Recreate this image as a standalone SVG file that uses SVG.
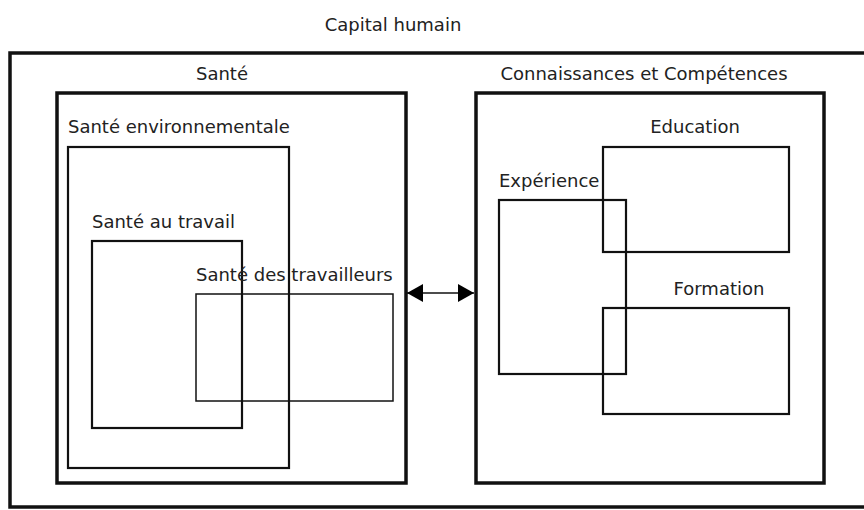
<svg xmlns="http://www.w3.org/2000/svg" width="864" height="510" viewBox="0 0 864 510">
<style>
text{font-family:"DejaVu Sans","Liberation Sans",sans-serif;font-size:18px;fill:#222}
.thick{fill:none;stroke:#111;stroke-width:3.5}
.mid{fill:none;stroke:#111;stroke-width:2.2}
.thin{fill:none;stroke:#111;stroke-width:1.5}
</style>
<defs>
<marker id="ah" viewBox="0 0 16 18" refX="16" refY="9" markerWidth="16" markerHeight="18" markerUnits="userSpaceOnUse" orient="auto-start-reverse">
<path d="M0,0 L16,9 L0,18 Z" fill="#000"/>
</marker>
</defs>
<rect width="864" height="510" fill="#fff"/>
<g id="capital">
<rect class="thick" x="10" y="53" width="880" height="454"/>
<text x="393" y="31" text-anchor="middle">Capital humain</text>
</g>
<g id="sante">
<rect class="thick" x="57" y="93" width="349" height="390"/>
<text x="222" y="80" text-anchor="middle">Santé</text>
</g>
<g id="sante-env">
<rect class="mid" x="68" y="147" width="221" height="321"/>
<text x="68" y="133">Santé environnementale</text>
</g>
<g id="sante-travail">
<rect class="mid" x="92" y="241" width="150" height="187"/>
<text x="92" y="228">Santé au travail</text>
</g>
<g id="sante-travailleurs">
<rect class="thin" x="196" y="294" width="197" height="107"/>
<text x="196" y="281">Santé des travailleurs</text>
</g>
<g id="connaissances">
<rect class="thick" x="476" y="93" width="348" height="390"/>
<text x="644" y="80" text-anchor="middle">Connaissances et Compétences</text>
</g>
<g id="education">
<rect class="mid" x="603" y="147" width="186" height="105"/>
<text x="695" y="133" text-anchor="middle">Education</text>
</g>
<g id="experience">
<rect class="mid" x="499" y="200" width="127" height="174"/>
<text x="499" y="187">Expérience</text>
</g>
<g id="formation">
<rect class="mid" x="603" y="308" width="186" height="106"/>
<text x="719" y="295" text-anchor="middle">Formation</text>
</g>
<g id="connectors">
<line x1="407" y1="293" x2="474" y2="293" stroke="#111" stroke-width="1.3" marker-start="url(#ah)" marker-end="url(#ah)"/>
</g>
</svg>
